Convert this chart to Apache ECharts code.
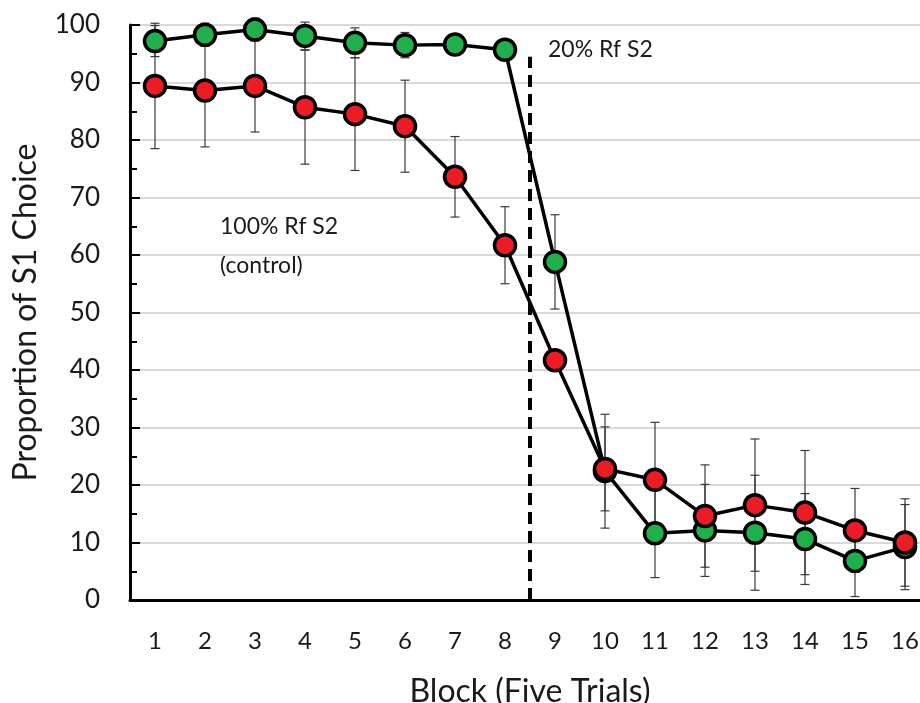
<!DOCTYPE html>
<html>
<head>
<meta charset="utf-8">
<script src="https://cdn.jsdelivr.net/npm/echarts@6/dist/echarts.min.js"></script>
<style>
html,body{margin:0;padding:0;background:#fff;overflow:hidden;}
#chart{width:920px;height:703px;}
</style>
</head>
<body>
<div id="chart"></div>
<script>
const blocks = ['1','2','3','4','5','6','7','8','9','10','11','12','13','14','15','16'];
const controlMeans = [89.4, 88.6, 89.4, 85.7, 84.5, 82.4, 73.6, 61.7, 41.7, 22.8, 20.9, 14.6, 16.5, 15.2, 12.1, 10.0];
const controlErr   = [10.9, 9.8, 8.0, 9.9, 9.8, 8.0, 7.0, 6.7, 1.5, 7.3, 10.0, 8.9, 11.5, 10.8, 7.3, 7.6];
const testMeans    = [97.2, 98.3, 99.2, 98.1, 96.9, 96.5, 96.6, 95.7, 58.8, 22.4, 11.6, 12.1, 11.7, 10.6, 6.8, 9.2];
const testErr      = [2.7, 2.0, 2.0, 2.4, 2.6, 2.2, 1.5, 1.5, 8.2, 9.9, 7.7, 8.0, 10.0, 7.9, 6.2, 7.4];
const phaseBoundary = 8.5;
const phaseLineTop = 94.5;
const yTicks = [0, 100, 10];

const FONT = 'Lato';
const TXT = '#1a1a1a';

function errData(means, errs) {
  return means.map((m, i) => [i, m + errs[i], m - errs[i]]);
}
function errRender(params, api) {
  const x = api.value(0);
  const top = api.coord([x, api.value(1)]);
  const bot = api.coord([x, api.value(2)]);
  const hw = 4.5;
  const style = { stroke: '#3a3a3a', lineWidth: 1.2 };
  return {
    type: 'group',
    children: [
      { type: 'line', shape: { x1: top[0], y1: top[1], x2: bot[0], y2: bot[1] }, style },
      { type: 'line', shape: { x1: top[0]-hw, y1: top[1], x2: top[0]+hw, y2: top[1] }, style },
      { type: 'line', shape: { x1: bot[0]-hw, y1: bot[1], x2: bot[0]+hw, y2: bot[1] }, style }
    ]
  };
}

const chart = echarts.init(document.getElementById('chart'), null, { renderer: 'canvas' });
chart.setOption({
  backgroundColor: '#fff',
  animation: false,
  textStyle: { fontFamily: FONT },
  grid: { left: 130, top: 25, width: 800, height: 575, containLabel: false, outerBoundsMode: 'none' },
  xAxis: [{
    type: 'category',
    data: blocks,
    boundaryGap: true,
    name: 'Block (Five Trials)',
    nameLocation: 'middle',
    nameGap: 76,
    nameTextStyle: { fontSize: 32, color: TXT, fontFamily: FONT },
    axisLine: { lineStyle: { color: '#000', width: 3 } },
    axisTick: { alignWithLabel: true, inside: true, length: 8, lineStyle: { color: '#000', width: 2 } },
    axisLabel: { fontSize: 24, color: TXT, margin: 29, fontFamily: FONT, interval: 0 },
    splitLine: { show: false }
  }, {
    type: 'value',
    min: 0.5, max: 16.5,
    show: false
  }],
  yAxis: {
    type: 'value',
    min: yTicks[0], max: yTicks[1], interval: yTicks[2],
    name: 'Proportion of S1 Choice',
    nameLocation: 'middle',
    nameGap: 88,
    nameTextStyle: { fontSize: 32, color: TXT, fontFamily: FONT },
    axisLine: { show: true, lineStyle: { color: '#000', width: 3 } },
    axisTick: { show: true, inside: true, length: 10, lineStyle: { color: '#000', width: 2 } },
    minorTick: { show: true, splitNumber: 2, length: 7, lineStyle: { color: '#000', width: 2 } },
    axisLabel: { fontSize: 26, color: TXT, margin: 30, fontFamily: FONT },
    splitLine: { show: true, lineStyle: { color: '#d9d9d9', width: 2 } }
  },
  graphic: [
    { type: 'text', x: 220, y: 227, style: { text: '100% Rf S2', fontSize: 23, fill: TXT, fontFamily: FONT, verticalAlign: 'middle' } },
    { type: 'text', x: 220, y: 266, style: { text: '(control)', fontSize: 23, fill: TXT, fontFamily: FONT, verticalAlign: 'middle' } },
    { type: 'text', x: 548, y: 50, style: { text: '20% Rf S2', fontSize: 23, fill: TXT, fontFamily: FONT, verticalAlign: 'middle' } }
  ],
  series: [
    {
      type: 'line', xAxisIndex: 1, data: [[phaseBoundary, 0], [phaseBoundary, phaseLineTop]],
      symbol: 'none', lineStyle: { color: '#000', width: 4, type: [12, 7] }, z: 1, silent: true
    },
    { type: 'custom', renderItem: errRender, data: errData(testMeans, testErr), z: 2, encode: { x: 0, y: [1, 2] } },
    { type: 'custom', renderItem: errRender, data: errData(controlMeans, controlErr), z: 2, encode: { x: 0, y: [1, 2] } },
    {
      name: '20% Rf S2', type: 'line', data: testMeans, z: 3,
      symbol: 'circle', symbolSize: 21,
      lineStyle: { color: '#000', width: 3.5 },
      itemStyle: { color: '#1fb04c', borderColor: '#000', borderWidth: 3.5 }
    },
    {
      name: '100% Rf S2', type: 'line', data: controlMeans, z: 4,
      symbol: 'circle', symbolSize: 21,
      lineStyle: { color: '#000', width: 3.5 },
      itemStyle: { color: '#ed1c24', borderColor: '#000', borderWidth: 3.5 }
    }
  ]
});
</script>
</body>
</html>
